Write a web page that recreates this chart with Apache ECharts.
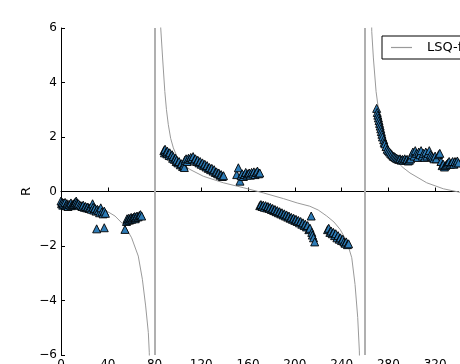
<!DOCTYPE html>
<html>
<head>
    <meta charset="UTF-8">
    <title>LSQ-fit</title>
    <style>
        html, body { margin: 0; padding: 0; background: #fff; }
        #main { width: 460px; height: 364px; }
    </style>
</head>
<body>
    <div id="main"></div>
    <script src="https://cdn.jsdelivr.net/npm/echarts@6/dist/echarts.min.js"></script>
    <script type="text/javascript">
        // measured points (x, R)
        let measured = [
            [0,-0.35],[0.5,-0.45],[1,-0.4],[1.5,-0.5],[2,-0.42],[3,-0.48],[3.5,-0.4],[4,-0.52],[5,-0.45],[5.5,-0.5],
            [6,-0.55],[7,-0.48],[8,-0.5],[8.5,-0.42],[9,-0.52],[10,-0.48],[11,-0.45],[12,-0.4],[13,-0.35],[13.5,-0.42],
            [14,-0.48],[15,-0.45],[16,-0.5],[17,-0.52],[18,-0.55],[19,-0.5],[20,-0.58],[21,-0.55],[22,-0.6],[23,-0.57],
            [24,-0.62],[25,-0.6],[26,-0.65],[27,-0.45],[27.5,-0.58],[28,-0.68],[29,-0.62],[30,-0.72],[31,-0.65],[32,-0.7],
            [33,-0.78],[34,-0.6],[35,-0.75],[36,-0.82],[37,-0.72],[38,-0.8],[30.5,-1.37],[37,-1.33],
            [54.7,-1.39],[56,-1.1],[56.5,-1.0],[57,-1.05],[58,-0.98],[58.5,-1.05],[59,-1.0],[60,-0.95],[60.5,-1.02],[61,-0.98],
            [62,-0.95],[63,-0.92],[63.5,-1.0],[64,-0.95],[65,-0.9],[66,-0.93],[67,-0.88],[68,-0.85],[69,-0.9],
            [88,1.5],[88.5,1.42],[89,1.55],[90,1.45],[90.5,1.38],[91,1.48],[92,1.4],[92.5,1.32],[93,1.42],[94,1.3],
            [95,1.35],[95.5,1.22],[96,1.28],[97,1.18],[98,1.22],[98.5,1.1],[99,1.15],[100,1.05],[101,1.1],[102,0.98],
            [103,1.02],[104,0.92],[105,0.95],[105.5,0.88],
            [106,1.15],[107,1.2],[108,1.1],[109,1.22],[110,1.18],[111,1.25],[112,1.2],[113,1.28],[114,1.15],[115,1.2],
            [116,1.1],[117,1.15],[118,1.05],[119,1.1],[120,1.0],[121,1.05],[122,0.95],[123,1.0],[124,0.9],[125,0.95],
            [126,0.85],[127,0.88],[128,0.8],[129,0.85],[130,0.75],[131,0.8],[132,0.7],[133,0.72],[134,0.65],[135,0.68],
            [136,0.6],[137,0.62],[138,0.55],[139,0.58],
            [150.3,0.62],[151.7,0.87],[153.1,0.38],[154,0.58],[155,0.65],[156,0.55],[157,0.62],[158,0.7],[159,0.6],[160,0.65],
            [161,0.68],[162,0.6],[163,0.7],[164,0.65],[165,0.72],[166,0.62],[167,0.7],[168,0.75],[169,0.65],[170,0.68],
            [170,-0.52],[171,-0.48],[172,-0.55],[173,-0.5],[174,-0.58],[175,-0.52],[176,-0.6],[177,-0.55],[178,-0.62],[179,-0.58],
            [180,-0.66],[181,-0.62],[182,-0.7],[183,-0.66],[184,-0.74],[185,-0.7],[186,-0.78],[187,-0.74],[188,-0.82],[189,-0.78],
            [190,-0.86],[191,-0.82],[192,-0.9],[193,-0.86],[194,-0.94],[195,-0.9],[196,-0.98],[197,-0.95],[198,-1.02],[199,-0.98],
            [200,-1.06],[201,-1.02],[202,-1.1],[203,-1.06],[204,-1.15],[205,-1.1],[206,-1.2],[207,-1.15],[208,-1.25],[209,-1.2],
            [210,-1.3],[211,-1.25],[212,-1.4],[213,-1.35],[214,-0.9],[214.5,-1.5],[215,-1.6],[216,-1.7],[217,-1.85],
            [228,-1.4],[229,-1.35],[230,-1.5],[231,-1.45],[232,-1.55],[233,-1.5],[234,-1.62],[235,-1.55],[236,-1.7],[237,-1.62],
            [238,-1.75],[239,-1.7],[240,-1.8],[241,-1.75],[242,-1.85],[243,-1.9],[244,-1.85],[245,-1.95],[246,-1.92],
            [270,3.05],[270.5,2.9],[271,2.8],[271.5,2.7],[272,2.6],[272.5,2.5],[273,2.4],[273.5,2.3],[274,2.2],[274.5,2.1],
            [275,2.0],[276,1.9],[276.5,1.8],[277,1.75],[278,1.65],[279,1.55],[280,1.5],[281,1.45],[282,1.4],[283,1.35],
            [284,1.3],[285,1.28],[286,1.25],[287,1.22],[288,1.2],[289,1.18],[290,1.2],[291,1.15],[292,1.18],[293,1.15],
            [294,1.2],[295,1.15],[296,1.18],[297,1.12],[298,1.15],[299,1.2],[300,1.35],[301,1.45],[302,1.3],[303,1.5],
            [304,1.4],[305,1.25],[306,1.45],[307,1.35],[308,1.5],[309,1.3],[310,1.4],[311,1.25],[312,1.45],[313,1.3],
            [314,1.4],[315,1.5],[316,1.35],[317,1.3],[318,1.25],[319,1.2],[320,1.3],[321,1.2],[323,1.35],[324,1.4],
            [325,1.1],[326,0.95],[327,1.0],[328,0.9],[329,0.95],[330,1.0],[331,1.05],[332,1.1],[333,1.0],[334,1.05],
            [335,1.1],[336,1.0],[337,1.1],[338,1.05],[339,1.12],[340,1.05]
        ];

        // fitted curve, one array per branch
        let fit1 = [[0,-0.28],[10,-0.36],[23.4,-0.48],[37.6,-0.68],[46.2,-0.9],[54.7,-1.27],[60.4,-1.7],
            [66.1,-2.37],[69.6,-3.22],[72.4,-4.2],[74.7,-5.18],[75.5,-5.9],[75.8,-6.5]];
        let fit2 = [[85.1,6.5],[85.3,6.0],[86.9,4.9],[88.8,3.67],[90.2,3.0],[91.8,2.45],[93.8,1.95],[96.1,1.6],
            [98.8,1.32],[101.8,1.11],[105.8,0.95],[110.3,0.81],[121.7,0.56],[138.8,0.32],[155.9,0.14],[173,-0.05],
            [190.2,-0.26],[202,-0.42],[212.8,-0.54],[220,-0.68],[227.3,-0.9],[233.5,-1.12],[238.7,-1.39],[244.4,-1.82],
            [248.7,-2.43],[251.5,-3.41],[253.8,-4.63],[255.2,-5.85],[255.4,-6.5]];
        let fit3 = [[265.6,6.5],[265.8,5.87],[267.2,4.9],[269.5,3.67],[272.9,2.58],[275.5,2.1],[278.6,1.72],
            [282.5,1.38],[287.1,1.11],[292.5,0.88],[298.5,0.68],[312.8,0.32],[327,0.1],[341.3,-0.03]];

        // vertical marker lines
        let asymptotes = [80, 260];

        let xTicks = { min: 0, max: 340, interval: 40 };
        let yTicks = { min: -6, max: 6, interval: 2 };

        let minus = v => String(v).replace('-', '\u2212');
        let font = 'DejaVu Sans';

        let myChart = echarts.init(document.getElementById('main'));

        let fitLine = d => ({
            name: 'LSQ-fit',
            type: 'line',
            data: d,
            symbol: 'none',
            silent: true,
            lineStyle: { color: '#9a9a9a', width: 1 },
            itemStyle: { color: '#9a9a9a' },
            z: 2
        });

        myChart.setOption({
            animation: false,
            grid: { left: 61, right: 1.5, top: 28, bottom: 9, outerBoundsMode: 'none', containLabel: false },
            legend: {
                data: [{ name: 'LSQ-fit', icon: 'rect' }],
                left: 382, top: 36,
                orient: 'vertical',
                backgroundColor: '#fff',
                borderColor: '#000', borderWidth: 1, borderRadius: 0,
                padding: [5, 10, 5, 9],
                itemWidth: 21, itemHeight: 1.2, itemGap: 6,
                itemStyle: { color: '#9a9a9a', borderWidth: 0 },
                textStyle: { fontFamily: font, fontSize: 13, color: '#000', padding: [0, 0, 0, 10], lineHeight: 13 }
            },
            xAxis: {
                type: 'value',
                min: xTicks.min, max: xTicks.max, interval: xTicks.interval,
                splitLine: { show: false },
                axisLine: { lineStyle: { color: '#000', width: 1 } },
                axisTick: { inside: true, length: 4, lineStyle: { color: '#000' } },
                axisLabel: {
                    fontFamily: font, fontSize: 12, color: '#000', margin: 4,
                    showMaxLabel: false,
                    formatter: v => (v % xTicks.interval === 0 ? minus(v) : '')
                }
            },
            yAxis: {
                type: 'value',
                min: yTicks.min, max: yTicks.max, interval: yTicks.interval,
                name: 'R', nameLocation: 'middle', nameGap: 28, nameMoveOverlap: false,
                nameTextStyle: { fontFamily: font, fontSize: 13, color: '#000' },
                splitLine: { show: false },
                axisLine: { lineStyle: { color: '#000', width: 1 } },
                axisTick: { inside: true, length: 4, lineStyle: { color: '#000' } },
                axisLabel: { fontFamily: font, fontSize: 12, color: '#000', margin: 4, formatter: minus }
            },
            series: [
                fitLine(fit1), fitLine(fit2), fitLine(fit3),
                {
                    name: 'data',
                    type: 'scatter',
                    data: measured,
                    symbol: 'triangle',
                    symbolSize: 8,
                    silent: true,
                    itemStyle: { color: '#2d7bb6', borderColor: '#000', borderWidth: 0.9, opacity: 1 },
                    markLine: {
                        silent: true,
                        symbol: 'none',
                        label: { show: false },
                        lineStyle: { color: '#b0b0b0', width: 2, type: 'solid' },
                        data: asymptotes.map(v => ({ xAxis: v }))
                    },
                    z: 3
                }
            ]
        });
    </script>
</body>
</html>
